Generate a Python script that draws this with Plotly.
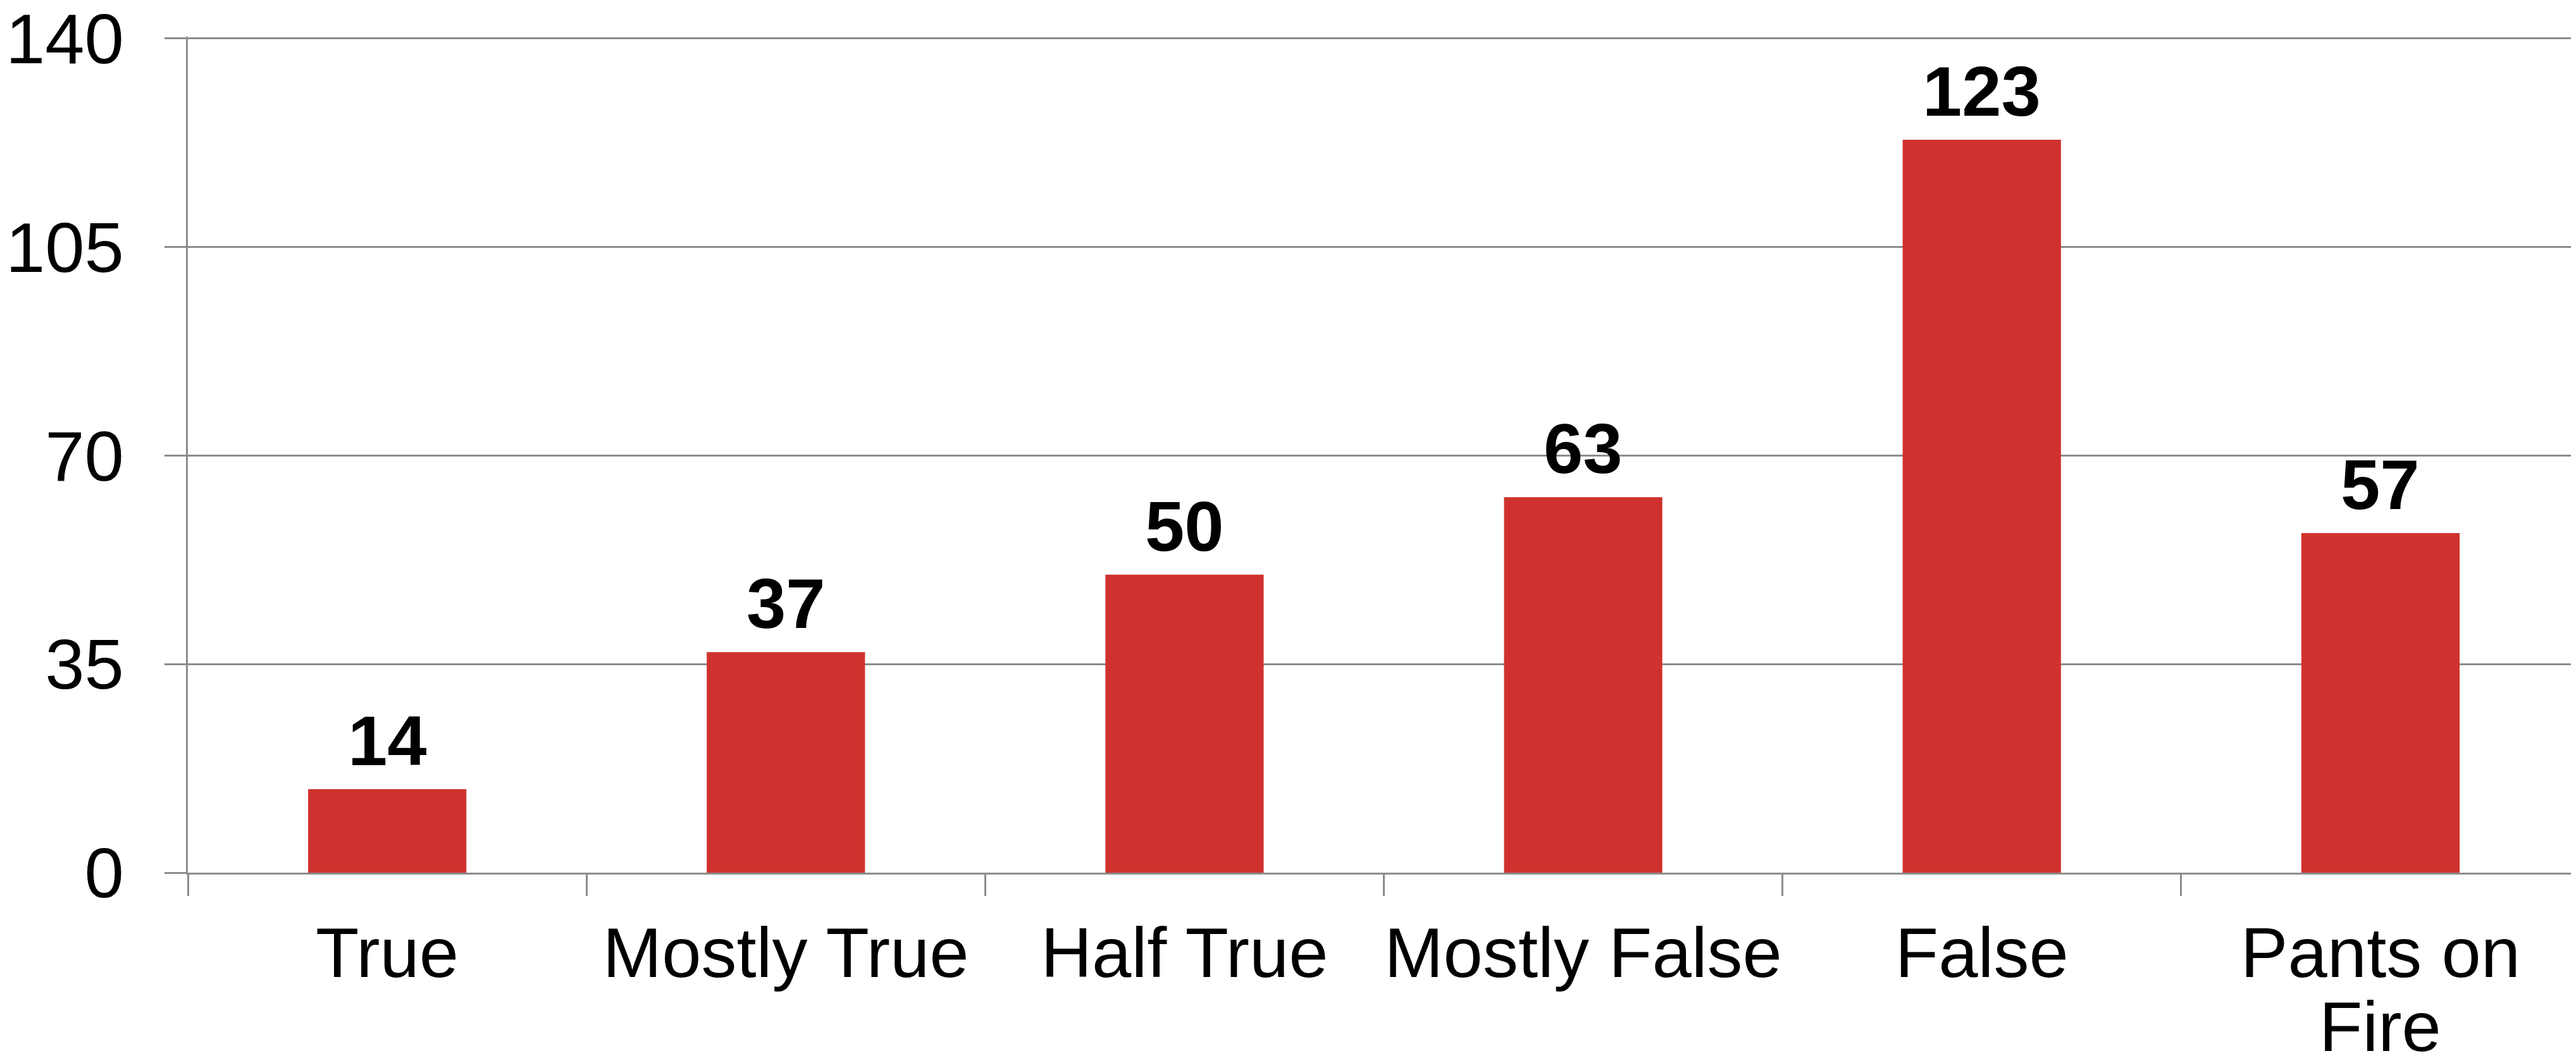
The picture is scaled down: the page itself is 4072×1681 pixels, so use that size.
import plotly.graph_objects as go

categories = ["True", "Mostly True", "Half True", "Mostly False", "False", "Pants on Fire"]
tick_labels = ["True", "Mostly True", "Half True", "Mostly False", "False", "Pants on"]
extra_label = "Fire"
values = [14, 37, 50, 63, 123, 57]
y_ticks = [0, 35, 70, 105, 140]

FONT = "Liberation Sans, Arial, sans-serif"
GRAY = "#8C8C8C"
RED = "#CF322E"
FS = 112

fig = go.Figure(go.Bar(
    x=categories, y=values,
    marker=dict(color=RED, line=dict(width=0)),
    width=0.397,
))

for c, v in zip(categories, values):
    fig.add_annotation(
        x=c, xref="x", y=v, yref="y", text=f"<b>{v}</b>", showarrow=False,
        yanchor="bottom", yshift=12,
        font=dict(family=FONT, size=FS, color="black"),
    )

fig.add_annotation(
    x=categories[-1], xref="x", y=0, yref="paper",
    text=extra_label, showarrow=False, yanchor="top", yshift=-179,
    font=dict(family=FONT, size=FS, color="black"),
)

fig.update_layout(
    width=4072, height=1681,
    margin=dict(l=289, r=2, t=50, b=309),
    plot_bgcolor="white", paper_bgcolor="white",
    showlegend=False,
    font=dict(family=FONT, size=FS, color="black"),
    xaxis=dict(
        tickmode="array", tickvals=categories, ticktext=tick_labels,
        tickson="boundaries", ticks="outside", ticklen=34, tickwidth=2.5, tickcolor=GRAY,
        showline=True, linecolor=GRAY, linewidth=2.5,
        showgrid=False, ticklabelstandoff=28, tickangle=0, automargin=False,
        tickfont=dict(family=FONT, size=FS, color="black"),
    ),
    yaxis=dict(
        range=[0, 140.3], tickmode="array", tickvals=y_ticks,
        ticks="outside", ticklen=34, tickwidth=2.5, tickcolor=GRAY,
        showline=True, linecolor=GRAY, linewidth=2.5,
        showgrid=True, gridcolor=GRAY, gridwidth=2.5,
        zeroline=False, ticklabelstandoff=42, automargin=False,
        ticklabeloverflow="allow",
        tickfont=dict(family=FONT, size=FS, color="black"),
    ),
)

fig.write_html("out.html")
